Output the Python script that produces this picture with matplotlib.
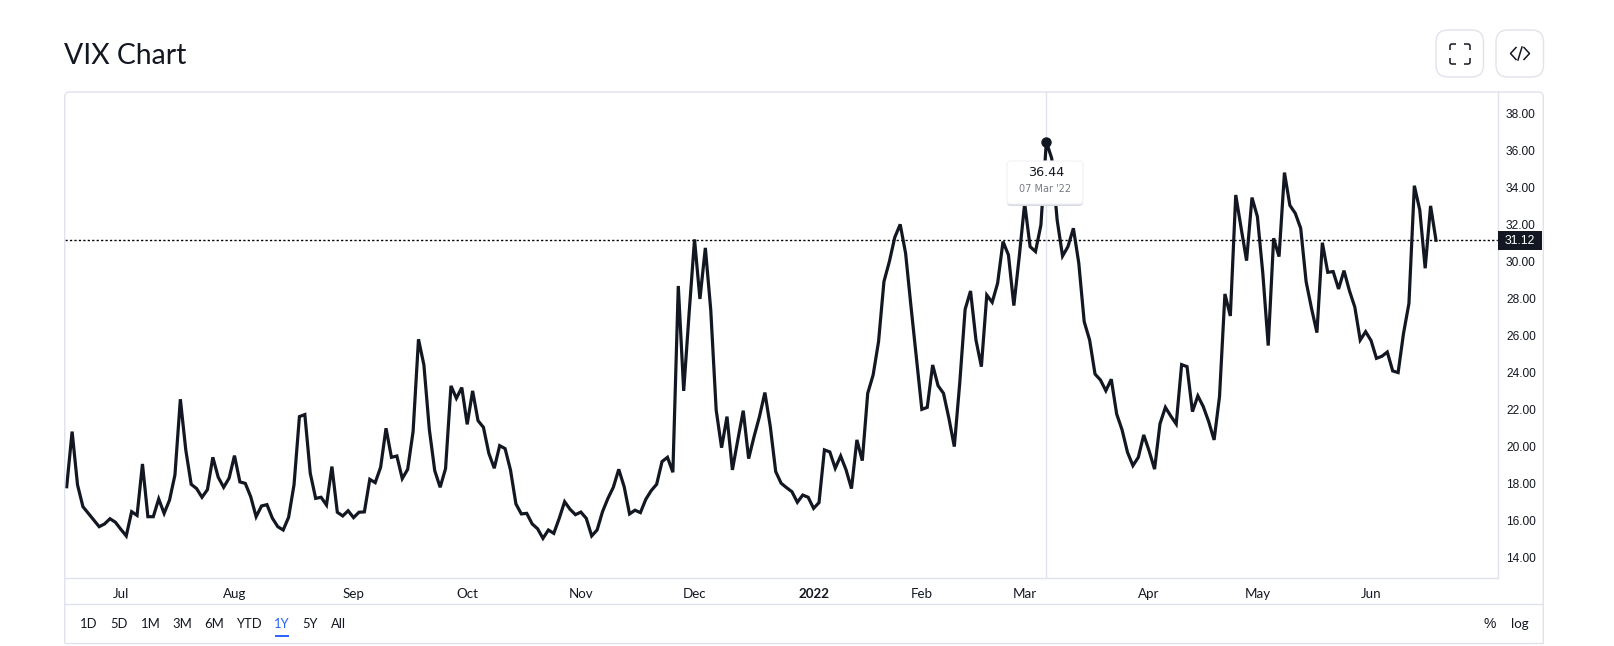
import numpy as np
import matplotlib.pyplot as plt
from matplotlib.patches import FancyBboxPatch, PathPatch, Rectangle
from matplotlib.path import Path

# VIX closes, one block per stretch of the chart
vix_jun_sep = [17.8, 20.78, 17.9, 16.72, 16.36, 16.0, 15.64, 15.79, 16.07, 15.88, 15.5, 15.14,
               16.45, 16.25, 19.03, 16.18, 16.18, 17.14, 16.36, 17.08, 18.44, 22.53, 19.79, 17.93,
               17.7, 17.23, 17.64, 19.39, 18.31, 17.77, 18.26, 19.48, 18.06, 17.98, 17.26, 16.18,
               16.76, 16.83, 16.1, 15.64, 15.46, 16.15, 17.9, 21.59, 21.7, 18.53, 17.17, 17.23,
               16.81, 18.89, 16.42, 16.22, 16.5, 16.13, 16.42, 16.44, 18.2, 18.02, 18.85, 20.96,
               19.39, 19.46, 18.24, 18.74, 20.78, 25.77, 24.38, 20.9, 18.67, 17.77, 18.78, 23.25, 22.58]
vix_oct_dec = [23.16, 21.17, 22.98, 21.37, 21.01, 19.6, 18.8, 20.02, 19.86, 18.7, 16.87, 16.33,
               16.36, 15.79, 15.53, 15.01, 15.46, 15.28, 16.09, 16.99, 16.58, 16.29, 16.43, 16.09,
               15.14, 15.46, 16.45, 17.17, 17.77, 18.74, 17.8, 16.33, 16.53, 16.4, 17.12, 17.59,
               17.93, 19.16, 19.39, 18.58, 28.65, 22.98, 27.17, 31.17, 27.95, 30.71, 27.35, 21.95,
               19.91, 21.59, 18.71, 20.33, 21.91, 19.32, 20.51, 21.59, 22.89, 21.05, 18.62, 17.99,
               17.75, 17.53, 16.96, 17.35, 17.23, 16.63, 16.94]
vix_dec_apr = [19.79, 19.68, 18.8, 19.46, 18.71, 17.7, 20.33, 19.21, 22.85, 23.84, 25.64, 28.89,
               29.97, 31.28, 31.98, 30.42, 27.53, 24.74, 21.98, 22.09, 24.38, 23.26, 22.85, 21.5,
               19.97, 23.39, 27.39, 28.38, 25.73, 24.29, 28.16, 27.77, 28.8, 31.05, 30.33, 27.59,
               30.24, 33.12, 30.78, 30.51, 31.95, 36.44, 35.55, 32.22, 30.27, 30.78, 31.77, 29.88,
               26.72, 25.73, 23.89, 23.57, 22.99, 23.61, 21.73, 20.87, 19.66, 18.94, 19.39, 20.6,
               19.73, 18.75, 21.2]
vix_apr_jun = [22.09, 21.62, 21.19, 24.4, 24.29, 21.86, 22.71, 22.13, 21.32, 20.33, 22.67, 28.22,
               27.03, 33.57, 31.77, 30.02, 33.43, 32.4, 29.34, 25.43, 31.23, 30.24, 34.78, 33.01,
               32.58, 31.77, 28.89, 27.44, 26.13, 30.99, 29.39, 29.43, 28.49, 29.48, 28.4, 27.51,
               25.73, 26.18, 25.7, 24.74, 24.85, 25.08, 24.06, 23.97, 26.09, 27.71, 34.07, 32.76,
               29.61, 32.98, 31.12]

month_labels = ['Jul', 'Aug', 'Sep', 'Oct', 'Nov', 'Dec', '2022', 'Feb', 'Mar', 'Apr', 'May', 'Jun']
month_index = [10, 31, 53, 74, 95, 116, 138, 158, 177, 200, 220, 241]
price_ticks = [14, 16, 18, 20, 22, 24, 26, 28, 30, 32, 34, 36, 38]
range_labels = ['1D', '5D', '1M', '3M', '6M', 'YTD', '1Y', '5Y', 'All']
range_x = [89, 119, 151, 182, 214, 249, 282, 310, 338]

last_price = 31.12
peak_index = 181
peak_price = 36.44

INK = '#131722'
GRID = '#e0e3eb'

vix = np.array(vix_jun_sep + vix_oct_dec + vix_dec_apr + vix_apr_jun)
days = np.arange(len(vix))

W, H = 1615, 646
fig = plt.figure(figsize=(W / 100, H / 100), dpi=100, facecolor='white')

# price pane, placed in pixels
left, right, top, bottom = 64.7, 1497.7, 92, 578
ax = fig.add_axes([left / W, 1 - bottom / H, (right - left) / W, (bottom - top) / H])
step = (1436 - 66.7) / (len(vix) - 1)
ax.set_xlim(-(66.7 - left) / step, (right - 66.7) / step)
ax.set_ylim(31.12 + (240.3 - bottom) / 18.5, 31.12 + (240.3 - top) / 18.5)

ax.axvline(peak_index, color=GRID, lw=1, zorder=1)
ax.axhline(last_price, color='black', lw=1, ls=(0, (1.6, 1.6)), zorder=1)
ax.plot(days, vix, color=INK, lw=2.3, solid_joinstyle='miter', zorder=2)
ax.plot([peak_index], [peak_price], 'o', color=INK, ms=6.5, zorder=3)

ax.spines['top'].set_visible(False)
ax.spines['left'].set_visible(False)
for name in ('right', 'bottom'):
    ax.spines[name].set_color(GRID)
    ax.spines[name].set_linewidth(1)

ax.yaxis.tick_right()
ax.set_yticks(price_ticks, [f'{p:.2f}' for p in price_ticks], family='Liberation Sans',
              fontsize=8.6, color=INK)
ax.tick_params(axis='y', length=0, pad=6)
ax.set_xticks(month_index, month_labels, family='Lato', fontsize=9.6, color=INK)
ax.tick_params(axis='x', length=0, pad=7.5)
ax.get_xticklabels()[month_labels.index('2022')].set_fontweight('bold')

# page furniture around the pane, in pixel coordinates
ov = fig.add_axes([0, 0, 1, 1], zorder=5)
ov.set_xlim(0, W)
ov.set_ylim(H, 0)
ov.axis('off')
ov.patch.set_alpha(0)

ov.text(64, 64, 'VIX Chart', family='Lato', fontsize=20.4, color=INK, va='baseline')

# outer frame, rounded only at the top corners
frame_l, frame_r, frame_t, frame_b = left, 1543.3, 92, 643
frame = Path([(frame_l, frame_b), (frame_l, frame_t + 5), (frame_l, frame_t), (frame_l + 5, frame_t),
              (frame_r - 5, frame_t), (frame_r, frame_t), (frame_r, frame_t + 5), (frame_r, frame_b)],
             [Path.MOVETO, Path.LINETO, Path.CURVE3, Path.CURVE3,
              Path.LINETO, Path.CURVE3, Path.CURVE3, Path.LINETO])
ov.add_patch(PathPatch(frame, fc='none', ec=GRID, lw=1))
ov.plot([left, frame_r], [604, 604], color=GRID, lw=1)
ov.plot([left, frame_r], [643, 643], color=GRID, lw=1)

for x0 in (1436, 1496):
    ov.add_patch(FancyBboxPatch((x0 + 12, 42), 23.5, 23, boxstyle='round,pad=12,rounding_size=12',
                                fc='white', ec=GRID, lw=1))

# fullscreen icon: four rounded brackets
for sx, sy in [(1, 1), (-1, 1), (1, -1), (-1, -1)]:
    cx, cy = 1460 - sx * 10, 54 - sy * 10
    corner = Path([(cx, cy + sy * 6), (cx, cy + sy * 2), (cx, cy), (cx + sx * 2, cy), (cx + sx * 6, cy)],
                  [Path.MOVETO, Path.LINETO, Path.CURVE3, Path.CURVE3, Path.LINETO])
    ov.add_patch(PathPatch(corner, fc='none', ec=INK, lw=1.1))

# embed icon
ov.plot([1516, 1510.5, 1516], [47.5, 53.5, 59.5], color=INK, lw=1.1)
ov.plot([1524, 1529.5, 1524], [47.5, 53.5, 59.5], color=INK, lw=1.1)
ov.plot([1522, 1518], [47, 60], color=INK, lw=1.1)

# last price tag on the scale
ov.add_patch(Rectangle((right, 231), 1541.7 - right, 19, fc=INK, ec='none'))
ov.text(1520, 240.5, f'{last_price:.2f}', family='Liberation Sans', fontsize=8.8, color='white',
        ha='center', va='center')

# tooltip over the peak
ov.add_patch(FancyBboxPatch((1011, 167), 68, 35, boxstyle='round,pad=4,rounding_size=4',
                            fc='#d8dae3', ec='none'))
ov.add_patch(FancyBboxPatch((1011, 165), 68, 35, boxstyle='round,pad=4,rounding_size=4',
                            fc='white', ec='#f0f1f5', lw=0.8))
ov.text(1046, 173, f'{peak_price:.2f}', family='DejaVu Sans', fontsize=9.2, color=INK,
        ha='center', va='center')
ov.text(1045, 189, "07 Mar '22", family='DejaVu Sans', fontsize=7, color='#787b86',
        ha='center', va='center')

# range buttons along the bottom
for lab, x in zip(range_labels, range_x):
    ov.text(x, 624, lab, family='Lato', fontsize=9.4, color='#2962ff' if lab == '1Y' else INK,
            ha='center', va='center')
ov.plot([276, 288], [636, 636], color='#2962ff', lw=1.4)
ov.text(1490, 624, '%', family='Liberation Sans', fontsize=10, color=INK, ha='center', va='center')
ov.text(1520, 624, 'log', family='Lato', fontsize=9.6, color=INK, ha='center', va='center')

fig.savefig('out.png', dpi=100)
